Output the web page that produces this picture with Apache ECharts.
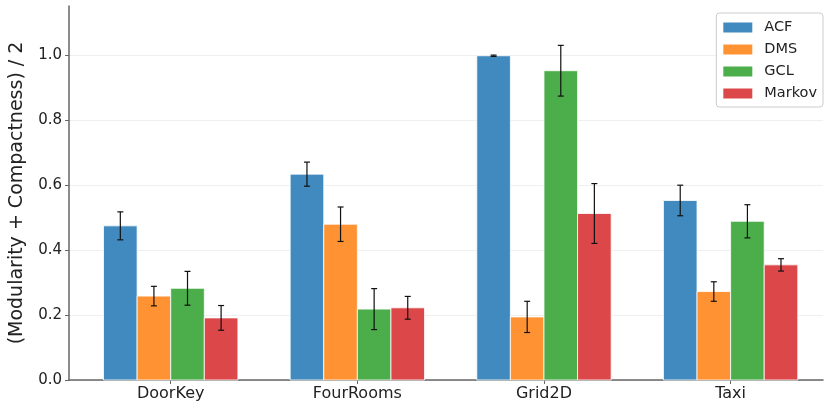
<!DOCTYPE html>
<html>
<head>
<meta charset="utf-8">
<script src="https://cdn.jsdelivr.net/npm/echarts@6/dist/echarts.min.js"></script>
<style>html,body{margin:0;padding:0;background:#fff}#c{width:824px;height:405px}</style>
</head>
<body>
<div id="c"></div>
<script>
const categories = ['DoorKey', 'FourRooms', 'Grid2D', 'Taxi'];
const methods = ['ACF', 'DMS', 'GCL', 'Markov'];
const acfMean = [0.474, 0.633, 0.997, 0.552];
const acfErr = [0.043, 0.037, 0.002, 0.047];
const dmsMean = [0.258, 0.479, 0.194, 0.272];
const dmsErr = [0.030, 0.053, 0.048, 0.030];
const gclMean = [0.282, 0.218, 0.951, 0.488];
const gclErr = [0.052, 0.063, 0.078, 0.051];
const markovMean = [0.191, 0.222, 0.512, 0.354];
const markovErr = [0.038, 0.035, 0.092, 0.019];
const yTicks = [0, 0.2, 0.4, 0.6, 0.8, 1.0];
const catPositions = [0, 1, 2, 3];

const means = [acfMean, dmsMean, gclMean, markovMean];
const errs = [acfErr, dmsErr, gclErr, markovErr];
const colors = ['#418abf', '#ff9233', '#4bae4b', '#dc4849'];
const BW = 0.18;

function renderBar(params, api) {
  const si = params.seriesIndex;
  const ci = api.value(0), v = api.value(1), e = api.value(2);
  const xc = ci + (si - 1.5) * BW;
  const p0 = api.coord([xc - BW / 2, v]);
  const p1 = api.coord([xc + BW / 2, 0]);
  const top = api.coord([xc, v + e]);
  const bot = api.coord([xc, v - e]);
  const cap = 3;
  return {
    type: 'group',
    children: [
      { type: 'rect', shape: { x: p0[0], y: p0[1], width: p1[0] - p0[0], height: p1[1] - p0[1] },
        style: { fill: api.visual('color'), stroke: 'rgba(255,255,255,0.8)', lineWidth: 1 } },
      { type: 'line', shape: { x1: top[0], y1: top[1], x2: bot[0], y2: bot[1] }, style: { stroke: '#111', lineWidth: 1.2 } },
      { type: 'line', shape: { x1: top[0] - cap, y1: top[1], x2: top[0] + cap, y2: top[1] }, style: { stroke: '#111', lineWidth: 1.2 } },
      { type: 'line', shape: { x1: bot[0] - cap, y1: bot[1], x2: bot[0] + cap, y2: bot[1] }, style: { stroke: '#111', lineWidth: 1.2 } }
    ]
  };
}

const series = methods.map((m, si) => ({
  name: m,
  type: 'custom',
  renderItem: renderBar,
  itemStyle: { color: colors[si] },
  encode: { x: 0, y: 1 },
  data: catPositions.map((c, k) => [c, means[si][k], errs[si][k]]),
  z: 2
}));

const chart = echarts.init(document.getElementById('c'), null, { renderer: 'canvas' });
chart.setOption({
  animation: false,
  backgroundColor: '#fff',
  textStyle: { fontFamily: 'DejaVu Sans' },
  grid: { left: 69, right: 1, top: 6, bottom: 25, containLabel: false, outerBoundsMode: 'none' },
  legend: {
    orient: 'vertical', right: 1, top: 13,
    data: methods,
    icon: 'rect', itemWidth: 29, itemHeight: 10, itemGap: 7,
    padding: [7, 6, 6, 7],
    borderColor: '#cccccc', borderWidth: 1, borderRadius: 3, backgroundColor: '#fff',
    textStyle: { fontSize: 14.5, color: '#222', fontFamily: 'DejaVu Sans', padding: [0, 0, 0, 7] }
  },
  xAxis: {
    type: 'value', min: -0.545, max: 3.495,
    axisLine: { show: true, onZero: false, lineStyle: { color: '#666', width: 1.5 } },
    axisTick: { show: true, customValues: catPositions, length: 4, lineStyle: { color: '#666' } },
    axisLabel: { customValues: catPositions, formatter: v => categories[Math.round(v)], fontSize: 16, color: '#222', margin: 6, fontFamily: 'DejaVu Sans' },
    splitLine: { show: false }
  },
  yAxis: {
    type: 'value', min: 0, max: 1.15,
    name: '(Modularity + Compactness) / 2', nameLocation: 'middle', nameGap: 42,
    nameTextStyle: { fontSize: 19, color: '#222', fontFamily: 'DejaVu Sans' },
    axisLine: { show: true, onZero: false, lineStyle: { color: '#666', width: 1.5 } },
    axisTick: { show: true, customValues: yTicks, length: 4, lineStyle: { color: '#666' } },
    axisLabel: { customValues: yTicks, formatter: v => v.toFixed(1), fontSize: 15, color: '#222', margin: 7, fontFamily: 'DejaVu Sans' },
    splitLine: { show: true, lineStyle: { color: '#efefef', width: 1 } }
  },
  series: series
});
</script>
</body>
</html>
